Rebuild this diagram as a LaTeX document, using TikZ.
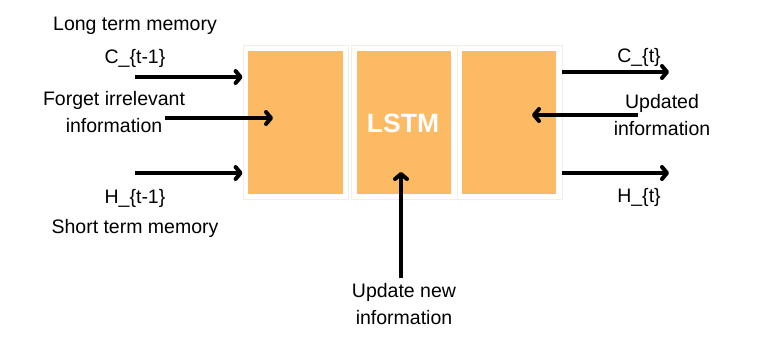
\documentclass[tikz,border=0pt]{standalone}
\usepackage{fontspec}
\setmainfont{Liberation Sans}
\usetikzlibrary{arrows.meta}
\definecolor{cellorange}{RGB}{252,186,100}
\definecolor{framegray}{RGB}{243,239,230}
\tikzset{
  frame/.style={draw=framegray, line width=0.8pt, fill=white, inner sep=0pt,
    minimum width=#1, minimum height=154pt},
  cell/.style={fill=cellorange, inner sep=0pt, minimum width=#1, minimum height=143pt},
  label/.style={inner sep=0pt, align=center, font=\fontsize{19.5}{27}\selectfont},
  arr/.style={line width=4pt, -{Straight Barb[length=5pt,width=12pt,line cap=round,line join=round]}},
}
\begin{document}
\begin{tikzpicture}[x=1pt, y=-1pt]
\useasboundingbox (0,0) rectangle (778,338);

% three gate blocks
\node[frame=105pt] (b1) at (295.5,122) {};
\node[cell=95pt] (c1) at (295.5,122.5) {};
\node[frame=106pt] (b2) at (404,122) {};
\node[cell=94pt] (c2) at (404,122.5) {};
\node[frame=105pt] (b3) at (509.5,122) {};
\node[cell=94pt] (c3) at (509,122.5) {};
\node[text=white, inner sep=0pt, font=\bfseries\fontsize{26.5}{30}\selectfont] (lstm) at (403,123) {LSTM};

% labels
\node[label] (ltm) at (135,26) {Long term memory};
\node[label] (cprev) at (135,58) {C\_\{t-1\}};
\node[label] (forget) at (114,112) {Forget irrelevant\\information};
\node[label] (hprev) at (135,198) {H\_\{t-1\}};
\node[label] (stm) at (135,228) {Short term memory};
\node[label] (cnext) at (639,57) {C\_\{t\}};
\node[label] (upd) at (662,115) {Updated\\information};
\node[label] (hnext) at (639,197) {H\_\{t\}};
\node[label] (newinfo) at (404,304) {Update new\\information};

% arrow end points
\coordinate (cin) at (135,77);
\coordinate (fin) at (165,118);
\coordinate (fend) at (273,118);
\coordinate (hin) at (135,173);
\coordinate (cend) at (669,72);
\coordinate (ustart) at (638,115);
\coordinate (uend) at (532,115);
\coordinate (hend) at (669,173);
\coordinate (nstart) at (401,278);
\coordinate (nend) at (401,172);

% connectors
\draw[arr] (cin) -- (cin -| b1.west);
\draw[arr] (fin) -- (fend);
\draw[arr] (hin) -- (hin -| b1.west);
\draw[arr] (cend -| b3.east) -- (cend);
\draw[arr] (ustart) -- (uend);
\draw[arr] (hend -| b3.east) -- (hend);
\draw[arr] (nstart) -- (nend);
\end{tikzpicture}
\end{document}
